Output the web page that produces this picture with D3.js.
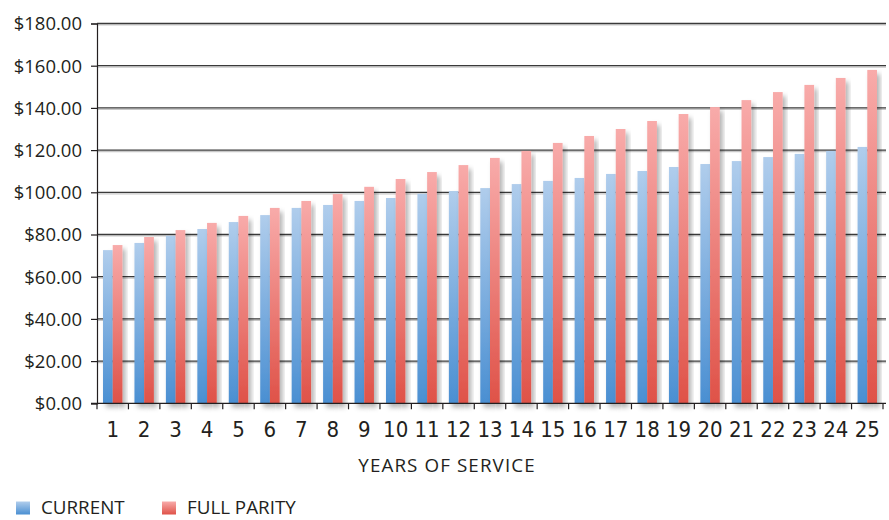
<!DOCTYPE html>
<html>
<head>
<meta charset="utf-8">
<script src="https://cdn.jsdelivr.net/npm/d3@7"></script>
<style>
  html, body { margin: 0; padding: 0; background: #fff; }
  svg { display: block; }
  .ylab { font-family: "Open Sans", sans-serif; font-size: 18.5px; fill: #231f20; }
  .xlab { font-family: "Liberation Sans Narrow", "DejaVu Sans Condensed", sans-serif; font-size: 22px; fill: #231f20; }
  .title { font-family: "Open Sans", sans-serif; font-size: 18.8px; letter-spacing: 1.1px; fill: #231f20; }
  .legend { font-family: "Open Sans", sans-serif; font-size: 18.8px; fill: #231f20; }
</style>
</head>
<body>
<svg id="chart" width="889" height="520"></svg>
<script>
// Hourly rate by years of service
const years = d3.range(1, 26).map(String);
const current = [72.6, 76.0, 79.4, 82.6, 85.9, 89.2, 92.6, 94.0, 95.9, 97.3,
                 99.3, 100.6, 102.0, 103.9, 105.4, 106.8, 108.7, 110.1, 112.0, 113.4,
                 114.8, 116.7, 118.2, 119.6, 121.5];
const fullParity = [75.0, 78.8, 82.1, 85.5, 88.8, 92.6, 95.9, 99.2, 102.6, 106.3,
                    109.6, 112.9, 116.3, 119.6, 123.4, 126.7, 130.0, 133.8, 137.1, 140.4,
                    143.7, 147.5, 150.9, 154.2, 158.0];
const seriesNames = ["CURRENT", "FULL PARITY"];
const yTicks = [0, 20, 40, 60, 80, 100, 120, 140, 160, 180];

const svg = d3.select("#chart");
const plotLeft = 97, plotRight = 883, plotTop = 23.5, plotBottom = 403.3;

const x0 = d3.scaleBand().domain(years).range([plotLeft, plotRight]).padding(0);
const x1 = d3.scaleBand().domain(seriesNames).range([0, x0.bandwidth()])
  .paddingInner(0).paddingOuter(0.62);
const y = d3.scaleLinear().domain([0, 180]).range([plotBottom, plotTop]);

const defs = svg.append("defs");
const grads = [
  { id: "gBlue", c0: "#b0cdec", c1: "#4a8fd2" },
  { id: "gRed", c0: "#f8abaa", c1: "#df5248" }
];
grads.forEach(g => {
  const lgr = defs.append("linearGradient").attr("id", g.id)
    .attr("x1", 0).attr("y1", 0).attr("x2", 0).attr("y2", 1);
  lgr.append("stop").attr("offset", "0%").attr("stop-color", g.c0);
  lgr.append("stop").attr("offset", "100%").attr("stop-color", g.c1);
});
const sh = defs.append("filter").attr("id", "shadow")
  .attr("x", "-50%").attr("y", "-10%").attr("width", "200%").attr("height", "130%");
sh.append("feDropShadow").attr("dx", 3).attr("dy", 4).attr("stdDeviation", 2.5)
  .attr("flood-color", "#000").attr("flood-opacity", 0.3);

// gridlines with a soft underline
const gridVals = yTicks.filter(v => v > 0);
svg.append("g").selectAll("line").data(gridVals).join("line")
  .attr("x1", plotLeft).attr("x2", plotRight + 3)
  .attr("y1", d => y(d) + 1.5).attr("y2", d => y(d) + 1.5)
  .attr("stroke", "#c8c8c8").attr("stroke-width", 1.2);
svg.append("g").selectAll("line").data(gridVals).join("line")
  .attr("x1", plotLeft).attr("x2", plotRight + 3)
  .attr("y1", d => y(d)).attr("y2", d => y(d))
  .attr("stroke", "#3a3a3a").attr("stroke-width", 1.3);

// bars
const rows = years.map((yr, i) => ({ yr, vals: [current[i], fullParity[i]] }));
const groups = svg.append("g").selectAll("g").data(rows).join("g")
  .attr("transform", d => `translate(${x0(d.yr)},0)`);
groups.selectAll("rect").data(d => d.vals.map((v, k) => ({ v, k })))
  .join("rect")
  .attr("x", d => x1(seriesNames[d.k]))
  .attr("width", x1.bandwidth())
  .attr("y", d => y(d.v))
  .attr("height", d => y(0) - y(d.v))
  .attr("fill", d => d.k === 0 ? "url(#gBlue)" : "url(#gRed)")
  .attr("filter", "url(#shadow)");

// y axis
const yAxis = d3.axisLeft(y).tickValues(yTicks).tickSize(6).tickPadding(9)
  .tickFormat(d => "$" + d3.format(".2f")(d));
const yg = svg.append("g").attr("transform", `translate(${plotLeft},0)`).call(yAxis);
yg.select(".domain").attr("stroke", "#231f20").attr("stroke-width", 1.2);
yg.selectAll(".tick line").attr("stroke", "#231f20").attr("stroke-width", 1.2);
yg.selectAll(".tick text").attr("class", "ylab").attr("dy", "0.35em");

// x axis baseline and category separators
const xg = svg.append("g");
xg.append("line").attr("x1", plotLeft - 6).attr("x2", plotRight + 3)
  .attr("y1", y(0)).attr("y2", y(0)).attr("stroke", "#231f20").attr("stroke-width", 1.3);
const seps = years.map(yr => x0(yr)).concat([x0(years[years.length - 1]) + x0.bandwidth()]);
xg.selectAll("line.sep").data(seps).join("line").attr("class", "sep")
  .attr("x1", d => d).attr("x2", d => d)
  .attr("y1", y(0)).attr("y2", y(0) + 6)
  .attr("stroke", "#231f20").attr("stroke-width", 1.2);
xg.selectAll("text").data(years).join("text")
  .attr("class", "xlab")
  .attr("x", d => x0(d) + x0.bandwidth() / 2)
  .attr("y", 437)
  .attr("text-anchor", "middle")
  .text(d => d);

svg.append("text").attr("class", "title")
  .attr("x", 447).attr("y", 471.5).attr("text-anchor", "middle")
  .text("YEARS OF SERVICE");

// legend
const legendItems = [
  { name: seriesNames[0], fill: "url(#gBlue)", x: 16 },
  { name: seriesNames[1], fill: "url(#gRed)", x: 162 }
];
const lg = svg.append("g").selectAll("g").data(legendItems).join("g")
  .attr("transform", d => `translate(${d.x},0)`);
lg.append("rect").attr("x", 0).attr("y", 501.5).attr("width", 14).attr("height", 13)
  .attr("fill", d => d.fill);
lg.append("text").attr("class", "legend").attr("x", 25).attr("y", 514)
  .text(d => d.name);
</script>
</body>
</html>
